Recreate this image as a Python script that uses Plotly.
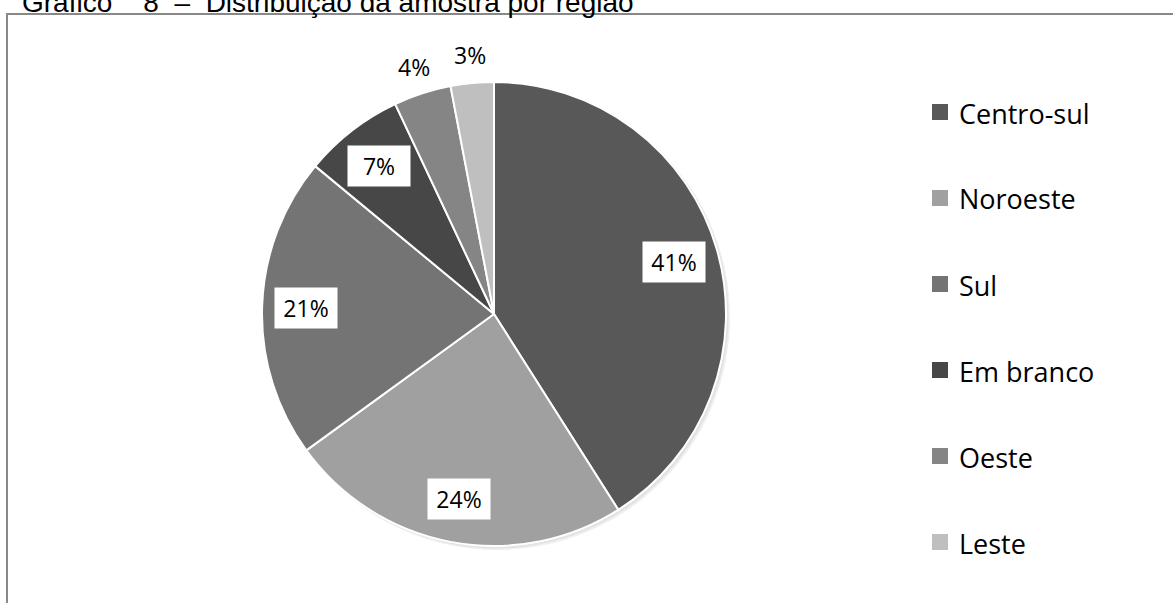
import math
import plotly.graph_objects as go

# ---- data ----
categories = ["Centro-sul", "Noroeste", "Sul", "Em branco", "Oeste", "Leste"]
values = [41, 24, 21, 7, 4, 3]
colors = ["#585858", "#a0a0a0", "#747474", "#474747", "#858585", "#bfbfbf"]
title_text = "Gráfico\u00a0\u00a0\u00a0\u00a08\u00a0\u00a0–\u00a0\u00a0Distribuição da amostra por região"

# ---- layout constants (pixels) ----
W, H = 1173, 603
CX, CY, R = 494, 314, 232

fig = go.Figure()
fig.add_trace(go.Pie(
    labels=categories,
    values=values,
    sort=False,
    direction="clockwise",
    rotation=0,
    marker=dict(colors=colors, line=dict(color="white", width=2)),
    textinfo="none",
    hoverinfo="label+percent",
    showlegend=False,
    domain=dict(x=[(CX - R) / W, (CX + R) / W], y=[(H - CY - R) / H, (H - CY + R) / H]),
))

annotations = []
shapes = []
total = sum(values)
cum = 0
for lab, v in zip(categories, values):
    frac = v / total
    mid = (cum + frac / 2) * 2 * math.pi
    cum += frac
    pct = f"{round(frac * 100):d}%"
    if frac >= 0.05:
        rr = 0.81 * R
        box = dict(bgcolor="white", width=62, height=40, borderpad=0)
    else:
        rr = 1.12 * R
        box = dict()
    px = CX + rr * math.sin(mid)
    py = CY - rr * math.cos(mid)
    annotations.append(dict(
        x=px / W, y=1 - py / H, xref="paper", yref="paper",
        text=pct, showarrow=False, xanchor="center", yanchor="middle",
        font=dict(family="Open Sans", size=23, color="black"), **box))

# soft shadow behind the pie
for off, col in [(4, "#f0f0f0"), (2.5, "#e2e2e2")]:
    shapes.append(dict(type="circle", xref="paper", yref="paper", layer="below",
                       x0=(CX - R + off * 0.6) / W, x1=(CX + R + off) / W,
                       y0=1 - (CY + R + off) / H, y1=1 - (CY - R + off * 0.6) / H,
                       fillcolor=col, line=dict(width=0)))

# manual legend
LX, LY0, LDY, SQ = 940, 112, 86, 16
for i, (lab, c) in enumerate(zip(categories, colors)):
    y = LY0 + i * LDY
    shapes.append(dict(type="rect", xref="paper", yref="paper",
                       x0=(LX - SQ / 2) / W, x1=(LX + SQ / 2) / W,
                       y0=1 - (y + SQ / 2) / H, y1=1 - (y - SQ / 2) / H,
                       fillcolor=c, line=dict(width=0)))
    annotations.append(dict(x=957 / W, y=1 - (y + 1) / H, xref="paper", yref="paper",
                            text=lab, showarrow=False, xanchor="left", yanchor="middle",
                            font=dict(family="Open Sans", size=27, color="black")))

# title (clipped at top, as in the source)
annotations.append(dict(x=20 / W, y=1 - 20 / H, xref="paper", yref="paper",
                        text=title_text, showarrow=False, xanchor="left", yanchor="bottom",
                        font=dict(family="Liberation Sans", size=28, color="black")))

# frame
shapes.append(dict(type="rect", xref="paper", yref="paper",
                   x0=7 / W, x1=1.05, y0=-0.05, y1=1 - 14 / H,
                   line=dict(color="#888888", width=2), fillcolor="rgba(0,0,0,0)", layer="below"))

fig.update_layout(
    width=W, height=H,
    margin=dict(l=0, r=0, t=0, b=0),
    paper_bgcolor="white", plot_bgcolor="white",
    annotations=annotations, shapes=shapes,
)
fig.write_html("out.html")
